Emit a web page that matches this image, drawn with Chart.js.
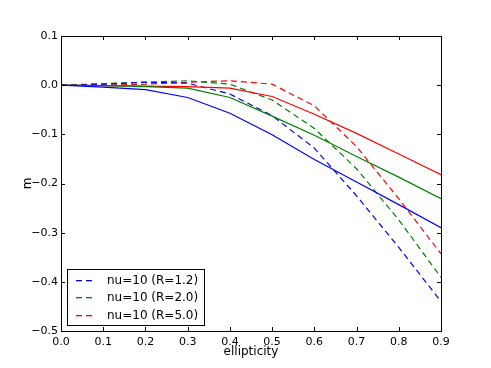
<!DOCTYPE html>
<html>
<head>
<meta charset="utf-8">
<script src="https://cdn.jsdelivr.net/npm/chart.js@4.4.1/dist/chart.umd.min.js"></script>
<style>
  html, body { margin: 0; padding: 0; background: #fff; }
  #wrap { width: 491px; height: 368px; }
</style>
</head>
<body>
<div id="wrap"><canvas id="mChart" width="491" height="368"></canvas></div>
<script>
// ellipticity values along the x axis
const ellipticity = [0.0, 0.1, 0.2, 0.3, 0.4, 0.5, 0.6, 0.7, 0.8, 0.9];

// solid lines (no legend entry)
const solidR12 = [0, -0.004, -0.009, -0.025, -0.057, -0.101, -0.151, -0.197, -0.243, -0.290];
const solidR20 = [0, -0.001, -0.003, -0.006, -0.025, -0.063, -0.102, -0.145, -0.187, -0.231];
const solidR50 = [0, -0.001, -0.002, -0.003, -0.006, -0.023, -0.059, -0.098, -0.140, -0.182];

// dashed lines, nu=10
const dashR12 = [0, 0.002, 0.006, 0.004, -0.018, -0.062, -0.128, -0.225, -0.330, -0.440];
const dashR20 = [0, 0.003, 0.006, 0.009, 0.002, -0.030, -0.088, -0.170, -0.274, -0.391];
const dashR50 = [0, 0.000, 0.002, 0.006, 0.009, 0.002, -0.042, -0.125, -0.231, -0.343];

const legendLabels = ["nu=10 (R=1.2)", "nu=10 (R=2.0)", "nu=10 (R=5.0)"];
const lineColors = ["#0000ff", "#008000", "#ff0000"];
const xTicks = [0.0, 0.1, 0.2, 0.3, 0.4, 0.5, 0.6, 0.7, 0.8, 0.9];
const yTicks = [-0.5, -0.4, -0.3, -0.2, -0.1, 0.0, 0.1];

const FONT = "'DejaVu Sans', sans-serif";

function pts(vals) {
    return vals.map((v, i) => ({ x: ellipticity[i], y: v }));
}

function fmt(v) {
    let s = Math.abs(v).toFixed(1);
    return (v < -1e-9 ? "\u2212" : "") + s;
}

function line(label, vals, color, dashed) {
    return {
        label: label,
        data: pts(vals),
        borderColor: color,
        backgroundColor: color,
        borderWidth: 1.2,
        borderDash: dashed ? [6, 4] : [],
        pointRadius: 0,
        tension: 0,
        fill: false
    };
}

// inward ticks on all four sides plus the frame
const frameTicks = {
    id: "frameTicks",
    afterDatasetsDraw(chart) {
        const ctx = chart.ctx;
        const a = chart.chartArea;
        const xs = chart.scales.x, ys = chart.scales.y;
        ctx.save();
        ctx.setLineDash([]);
        ctx.strokeStyle = "#000";
        ctx.lineWidth = 1;
        ctx.beginPath();
        xTicks.forEach(t => {
            let px = Math.round(xs.getPixelForValue(t)) + 0.5;
            ctx.moveTo(px, a.bottom); ctx.lineTo(px, a.bottom - 4);
            ctx.moveTo(px, a.top); ctx.lineTo(px, a.top + 4);
        });
        yTicks.forEach(t => {
            let py = Math.round(ys.getPixelForValue(t)) + 0.5;
            ctx.moveTo(a.left, py); ctx.lineTo(a.left + 4, py);
            ctx.moveTo(a.right, py); ctx.lineTo(a.right - 4, py);
        });
        ctx.stroke();
        ctx.strokeRect(Math.round(a.left) + 0.5, Math.round(a.top) + 0.5,
                       Math.round(a.right - a.left), Math.round(a.bottom - a.top));
        ctx.restore();
    }
};

// legend box in the lower left, like matplotlib loc=3
const boxLegend = {
    id: "boxLegend",
    afterDraw(chart) {
        const ctx = chart.ctx;
        const a = chart.chartArea;
        const x0 = Math.round(a.left) + 6, y0 = 269, w = 137, h = 56;
        ctx.save();
        ctx.setLineDash([]);
        ctx.fillStyle = "#fff";
        ctx.fillRect(x0, y0, w, h);
        ctx.strokeStyle = "#000";
        ctx.lineWidth = 1;
        ctx.strokeRect(x0 + 0.5, y0 + 0.5, w, h);
        ctx.font = "12px " + FONT;
        ctx.textBaseline = "middle";
        legendLabels.forEach((label, i) => {
            let yy = Math.round(y0 + 10.5 + i * 17.7);
            // two short dashes as the sample
            ctx.fillStyle = lineColors[i];
            ctx.fillRect(x0 + 9, yy, 6, 1.3);
            ctx.fillRect(x0 + 19, yy, 6, 1.3);
            ctx.fillStyle = "#000";
            ctx.fillText(label, x0 + 40, yy + 0.5);
        });
        ctx.restore();
    }
};

new Chart(document.getElementById("mChart").getContext("2d"), {
    type: "line",
    data: {
        datasets: [
            line("", solidR12, lineColors[0], false),
            line("", solidR20, lineColors[1], false),
            line("", solidR50, lineColors[2], false),
            line(legendLabels[0], dashR12, lineColors[0], true),
            line(legendLabels[1], dashR20, lineColors[1], true),
            line(legendLabels[2], dashR50, lineColors[2], true)
        ]
    },
    options: {
        responsive: false,
        animation: false,
        layout: { padding: { left: 17, right: 50, top: 36, bottom: 5 } },
        plugins: {
            legend: { display: false },
            tooltip: { enabled: false }
        },
        scales: {
            x: {
                type: "linear",
                min: 0, max: 0.9,
                afterBuildTicks: s => { s.ticks = xTicks.map(v => ({ value: v })); },
                afterFit: s => { s.height = 32; },
                grid: { display: false, drawTicks: false },
                border: { display: false },
                ticks: {
                    color: "#000", padding: 5,
                    font: { family: FONT, size: 11 },
                    maxRotation: 0,
                    callback: v => fmt(v)
                },
                title: {
                    display: true, text: "ellipticity", color: "#000",
                    font: { family: FONT, size: 12 },
                    padding: { top: 0, bottom: 4 }
                }
            },
            y: {
                type: "linear",
                min: -0.5, max: 0.1,
                afterBuildTicks: s => { s.ticks = yTicks.map(v => ({ value: v })); },
                afterFit: s => { s.width = 44; },
                grid: { display: false, drawTicks: false },
                border: { display: false },
                ticks: {
                    color: "#000", padding: 3,
                    font: { family: FONT, size: 11 },
                    callback: v => fmt(v)
                },
                title: {
                    display: true, text: "m", color: "#000",
                    font: { family: FONT, size: 12 },
                    padding: { top: 4, bottom: 0 }
                }
            }
        }
    },
    plugins: [frameTicks, boxLegend]
});
</script>
</body>
</html>
